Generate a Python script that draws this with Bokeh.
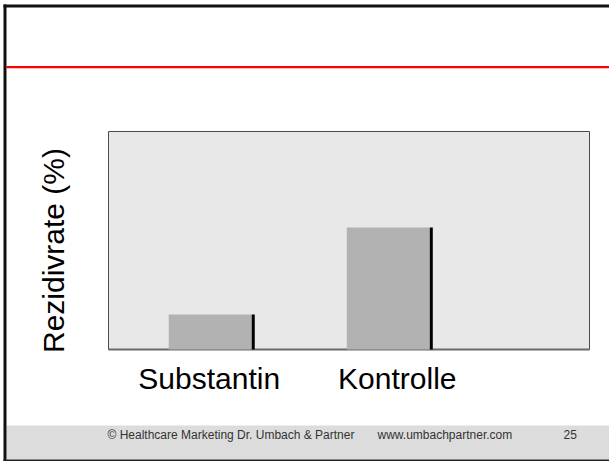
import math
from bokeh.plotting import figure
from bokeh.models import Range1d
from bokeh.core.properties import value
from bokeh.embed import file_html
from bokeh.resources import INLINE

# ---- data ----
categories = ["Substantin", "Kontrolle"]
values = [8, 28]          # Rezidivrate (%)
positions = [1, 2]
y_label = "Rezidivrate (%)"
footer_left = "© Healthcare Marketing Dr. Umbach & Partner"
footer_mid = "www.umbachpartner.com"
page_no = "25"

# ---- layout (slide pixels) ----
W, H = 609, 461
FL, FR, FT, FB = 108, 589, 131, 349      # plot-area edges on the slide
X0, X1 = 0.4286, 3.13                    # category axis range inside the plot area
Y0, Y1 = 0.0, 50.0                       # value axis range inside the plot area
bar_w = 0.466
label_dx = [-1, 9]                       # small horizontal nudges of the category labels (px)
FONT = "Liberation Sans"
XR = W                                   # right end of the slide decorations

sxs = (X1 - X0) / (FR - FL)
sys_ = (Y1 - Y0) / (FB - FT)

p = figure(width=W, height=H, output_backend="svg", toolbar_location=None,
           x_range=Range1d(0, W), y_range=Range1d(H, 0),
           min_border=0, min_border_left=0, min_border_right=0,
           min_border_top=0, min_border_bottom=0)
p.extra_x_ranges = {"cat": Range1d(X0 - FL * sxs, X1 + (W - FR) * sxs)}
p.extra_y_ranges = {"val": Range1d(Y0 - (H - FB) * sys_, Y1 + FT * sys_)}
p.axis.visible = False
p.grid.visible = False
p.outline_line_color = None
p.background_fill_color = "white"
p.border_fill_color = "white"

# slide decorations
p.quad(left=[6], right=[XR], top=[425], bottom=[459], color="#dcdcdc", line_color=None)   # footer band
p.quad(left=[6], right=[XR], top=[65.5], bottom=[67.7], color="#ff0000", line_color=None)  # red rule
p.quad(left=[3], right=[6], top=[4], bottom=[H], color="#111111", line_color=None)         # left border
p.quad(left=[3], right=[XR], top=[4], bottom=[7], color="#111111", line_color=None)        # top border
p.quad(left=[3], right=[XR], top=[459], bottom=[H], color="#222222", line_color=None)      # bottom border

# plot area
p.quad(left=[X0], right=[X1], bottom=[Y0], top=[Y1], fill_color="#e8e8e8",
       line_color="#4a4a4a", line_width=1, x_range_name="cat", y_range_name="val")
p.segment(x0=[X0], y0=[Y0], x1=[X1], y1=[Y0], line_color="#6a6a6a", line_width=2,
          x_range_name="cat", y_range_name="val")

# bars
p.vbar(x=positions, top=values, bottom=0, width=bar_w, color="#b2b2b2", line_color=None,
       x_range_name="cat", y_range_name="val")
edge_x = [x + bar_w / 2 + 0.0085 for x in positions]
p.segment(x0=edge_x, y0=[0] * len(values), x1=edge_x, y1=values,
          line_color="black", line_width=3, x_range_name="cat", y_range_name="val")

# category labels
p.text(x=positions, y=[Y0] * len(positions), text=categories, y_offset=29, x_offset=label_dx,
       text_font=value(FONT), text_font_size=value("30px"), text_color="black",
       text_align="center", text_baseline="alphabetic",
       x_range_name="cat", y_range_name="val")

# value axis title
p.text(x=[53], y=[250], text=[y_label], angle=math.pi / 2,
       text_font=value(FONT), text_font_size=value("30px"), text_color="black",
       text_align="center", text_baseline="middle")

# footer texts
p.text(x=[107, 377, 563], y=[434] * 3, text=[footer_left, footer_mid, page_no],
       text_font=value(FONT), text_font_size=value("12px"), text_color="#333333",
       text_align="left", text_baseline="middle")

open("out.html", "w").write(file_html(p, INLINE))
